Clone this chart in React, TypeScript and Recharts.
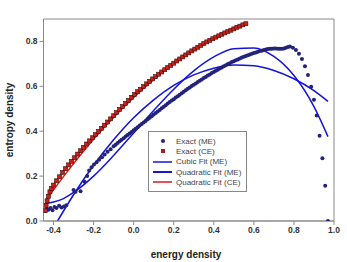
import React from "react";
import {
  ComposedChart,
  Line,
  Scatter,
  XAxis,
  YAxis,
  ReferenceArea,
  Label,
} from "recharts";

// Exact (ME): microcanonical entropy density vs energy density
const meX = [
  -0.441, -0.433, -0.425, -0.415, -0.405, -0.395, -0.385, -0.372, -0.36, -0.348, -0.336,
  -0.3, -0.29, -0.265, -0.245, -0.232, -0.222, -0.21, -0.198, -0.185, -0.172, -0.158,
  -0.145, -0.13, -0.115,
  -0.1, -0.09, -0.08, -0.07, -0.06, -0.05, -0.04, -0.03, -0.02, -0.01,
  0.0, 0.01, 0.02, 0.03, 0.04, 0.05, 0.06, 0.07, 0.08, 0.09,
  0.1, 0.11, 0.12, 0.13, 0.14, 0.15, 0.16, 0.17, 0.18, 0.19,
  0.2, 0.21, 0.22, 0.23, 0.24, 0.25, 0.26, 0.27, 0.28, 0.29,
  0.3, 0.31, 0.32, 0.33, 0.34, 0.35, 0.36, 0.37, 0.38, 0.39,
  0.4, 0.41, 0.42, 0.43, 0.44, 0.45, 0.46, 0.47, 0.48, 0.49,
  0.5, 0.51, 0.52, 0.53, 0.54, 0.55, 0.56, 0.57, 0.58, 0.59,
  0.6, 0.61, 0.62, 0.63, 0.64, 0.65, 0.66, 0.67, 0.68, 0.69,
  0.7, 0.71, 0.72, 0.73, 0.74, 0.75, 0.76, 0.77, 0.78,
  0.795, 0.81, 0.825, 0.84, 0.855, 0.87, 0.886, 0.9, 0.914, 0.928, 0.942, 0.956, 0.97,
];
const meY = [
  0.045, 0.055, 0.05, 0.058, 0.048, 0.062, 0.058, 0.068, 0.06, 0.065, 0.07,
  0.138, 0.13, 0.132, 0.175, 0.2, 0.225, 0.24, 0.252, 0.262, 0.273, 0.284,
  0.296, 0.308, 0.32,
  0.333, 0.34, 0.348, 0.355, 0.362, 0.369, 0.376, 0.383, 0.39, 0.397,
  0.404, 0.411, 0.418, 0.425, 0.432, 0.439, 0.446, 0.453, 0.46, 0.467,
  0.474, 0.481, 0.488, 0.495, 0.502, 0.509, 0.516, 0.523, 0.53, 0.537,
  0.543, 0.55, 0.556, 0.563, 0.569, 0.576, 0.582, 0.589, 0.595, 0.601,
  0.607, 0.613, 0.619, 0.625, 0.631, 0.637, 0.642, 0.648, 0.653, 0.659,
  0.664, 0.669, 0.674, 0.679, 0.684, 0.689, 0.694, 0.699, 0.703, 0.708,
  0.712, 0.716, 0.72, 0.724, 0.728, 0.732, 0.735, 0.739, 0.742, 0.745,
  0.748, 0.751, 0.754, 0.757, 0.759, 0.762, 0.764, 0.766, 0.767, 0.768,
  0.769, 0.769, 0.768, 0.767, 0.767, 0.769, 0.772, 0.775, 0.777,
  0.772, 0.762, 0.745, 0.722, 0.69, 0.65, 0.598, 0.54, 0.47, 0.38, 0.28, 0.157, 0.0,
];

// Exact (CE): canonical entropy density
const ceX = [
  -0.441, -0.437, -0.432, -0.425, -0.418, -0.41,
  -0.4, -0.385, -0.37, -0.355, -0.34, -0.325, -0.31, -0.295, -0.28, -0.265,
  -0.25, -0.235, -0.22, -0.205, -0.19, -0.175, -0.16, -0.145, -0.13, -0.115,
  -0.1, -0.085, -0.07, -0.055, -0.04, -0.025, -0.01, 0.005, 0.02, 0.035,
  0.05, 0.065, 0.08, 0.095, 0.11, 0.125, 0.14, 0.155, 0.17, 0.185,
  0.2, 0.215, 0.23, 0.245, 0.26, 0.275, 0.29, 0.305, 0.32, 0.335,
  0.35, 0.365, 0.38, 0.395, 0.41, 0.425, 0.44, 0.455, 0.47, 0.485,
  0.5, 0.515, 0.53, 0.545, 0.56,
];
const ceY = [
  0.047, 0.07, 0.09, 0.11, 0.13, 0.145,
  0.16, 0.179, 0.197, 0.216, 0.233, 0.25, 0.266, 0.282, 0.298, 0.313,
  0.328, 0.343, 0.357, 0.371, 0.385, 0.399, 0.413, 0.427, 0.441, 0.455,
  0.469, 0.483, 0.497, 0.51, 0.524, 0.537, 0.551, 0.564, 0.576, 0.587,
  0.599, 0.611, 0.622, 0.633, 0.643, 0.654, 0.664, 0.674, 0.684, 0.693,
  0.703, 0.713, 0.722, 0.731, 0.74, 0.749, 0.758, 0.766, 0.774, 0.782,
  0.79, 0.798, 0.805, 0.812, 0.819, 0.825, 0.832, 0.838, 0.844, 0.85,
  0.856, 0.863, 0.868, 0.874, 0.879,
];

// fitted curves
const cubicMeX = [-0.44, -0.4, -0.35, -0.3, -0.2, -0.1, 0.0, 0.1, 0.2, 0.3, 0.4, 0.5, 0.6, 0.7, 0.8, 0.9, 0.97];
const cubicMeY = [0.078, 0.085, 0.1, 0.127, 0.2, 0.292, 0.392, 0.492, 0.587, 0.669, 0.731, 0.768, 0.771, 0.733, 0.648, 0.51, 0.376];

const quadMeX = [-0.38, -0.3, -0.2, -0.1, 0.0, 0.1, 0.2, 0.3, 0.4, 0.5, 0.6, 0.7, 0.8, 0.9, 0.97];
const quadMeY = [0.0, 0.117, 0.248, 0.362, 0.46, 0.54, 0.604, 0.651, 0.681, 0.695, 0.692, 0.671, 0.634, 0.581, 0.533];

const quadCeX = [-0.44, -0.34, -0.24, -0.14, -0.04, 0.06, 0.16, 0.26, 0.36, 0.46, 0.56];
const quadCeY = [0.09, 0.21, 0.322, 0.424, 0.516, 0.6, 0.674, 0.74, 0.796, 0.842, 0.88];

const xTicks = [-0.4, -0.2, 0.0, 0.2, 0.4, 0.6, 0.8, 1.0];
const yTicks = [0.0, 0.2, 0.4, 0.6, 0.8];

const legendItems = [
  { label: "Exact (ME)", kind: "dot" },
  { label: "Exact (CE)", kind: "square" },
  { label: "Cubic Fit (ME)", kind: "line" },
  { label: "Quadratic Fit (ME)", kind: "line2" },
  { label: "Quadratic Fit (CE)", kind: "redline" },
];

const zip = (xs: number[], ys: number[]) => xs.map((x, i) => ({ x, y: ys[i] }));

const meData = zip(meX, meY);
const ceData = zip(ceX, ceY);
const cubicMe = zip(cubicMeX, cubicMeY);
const quadMe = zip(quadMeX, quadMeY);
const quadCe = zip(quadCeX, quadCeY);

const NAVY = "#23237a";
const BLUE = "#1414dc";
const RED = "#dd1a14";
const FRAME = "#8a8a8a";
const FONT = "'Liberation Sans', Arial, sans-serif";

const Dot = (p: any) => <circle cx={p.cx} cy={p.cy} r={2} fill={NAVY} />;
const Square = (p: any) => (
  <rect x={p.cx - 2} y={p.cy - 2} width={4} height={4} fill="#c82018" stroke="#3a0c0c" strokeWidth={0.6} />
);

function LegendBox() {
  return (
    <div
      style={{
        position: "absolute",
        left: 148,
        top: 131,
        width: 99,
        height: 61,
        border: "1px solid #888",
        background: "#fff",
        boxSizing: "border-box",
        paddingTop: 4,
        fontFamily: FONT,
        fontSize: 8,
        color: "#444",
      }}
    >
      {legendItems.map((it) => (
        <div key={it.label} style={{ display: "flex", alignItems: "center", height: 10.3 }}>
          <svg width={22} height={10} style={{ marginLeft: 4, flex: "none" }}>
            {it.kind === "dot" && <circle cx={10} cy={5} r={2} fill={NAVY} />}
            {it.kind === "square" && <rect x={8} y={3} width={4} height={4} fill="#a52020" />}
            {it.kind === "line" && <line x1={0} x2={19} y1={5} y2={5} stroke={BLUE} strokeWidth={1.5} />}
            {it.kind === "line2" && <line x1={0} x2={19} y1={5} y2={5} stroke={BLUE} strokeWidth={2} />}
            {it.kind === "redline" && <line x1={0} x2={19} y1={5} y2={5} stroke={RED} strokeWidth={1.5} />}
          </svg>
          <span style={{ marginLeft: 1, whiteSpace: "nowrap" }}>{it.label}</span>
        </div>
      ))}
    </div>
  );
}

const YTitle = (p: any) => {
  const vb = p.viewBox || {};
  const cy = vb.y + vb.height / 2;
  return (
    <text
      x={9}
      y={cy}
      transform={`rotate(-90 9 ${cy})`}
      textAnchor="middle"
      dominantBaseline="central"
      style={{ fill: "#222", fontSize: 10, fontWeight: 700, fontFamily: FONT }}
    >
      entropy density
    </text>
  );
};

const XTitle = () => (
  <text
    x={186}
    y={254}
    textAnchor="middle"
    dominantBaseline="central"
    style={{ fill: "#222", fontSize: 10, fontWeight: 700, fontFamily: FONT }}
  >
    energy density
  </text>
);

export default function App() {
  const tickStyle = { fill: "#333", fontSize: 8.5, fontWeight: 700, fontFamily: FONT };
  return (
    <div style={{ position: "absolute", left: 0, top: 0, width: 347, height: 262, background: "#fff" }}>
      <ComposedChart width={347} height={262} margin={{ top: 19, right: 13, bottom: 0, left: 0 }}>
        <XAxis
          type="number"
          dataKey="x"
          domain={[-0.45, 1.0]}
          ticks={xTicks}
          allowDataOverflow
          tickFormatter={(v: number) => v.toFixed(1)}
          tick={tickStyle}
          tickSize={4}
          stroke={FRAME}
          height={41}
        >
          <Label content={XTitle} />
        </XAxis>
        <YAxis
          type="number"
          dataKey="y"
          domain={[0, 0.9]}
          ticks={yTicks}
          allowDataOverflow
          tickFormatter={(v: number) => v.toFixed(1)}
          tick={tickStyle}
          tickSize={4}
          stroke={FRAME}
          width={43.5}
        >
          <Label content={YTitle} />
        </YAxis>
        <ReferenceArea x1={-0.45} x2={1.0} y1={0} y2={0.9} fill="none" stroke={FRAME} strokeWidth={1} />
        <Scatter data={meData} shape={Dot} isAnimationActive={false} />
        <Scatter data={ceData} shape={Square} isAnimationActive={false} />
        <Line data={cubicMe} dataKey="y" type="monotone" stroke={BLUE} strokeWidth={1.5} dot={false} isAnimationActive={false} />
        <Line data={quadMe} dataKey="y" type="monotone" stroke={BLUE} strokeWidth={1.6} dot={false} isAnimationActive={false} />
        <Line data={quadCe} dataKey="y" type="monotone" stroke={RED} strokeWidth={1.5} dot={false} isAnimationActive={false} />
      </ComposedChart>
      <LegendBox />
    </div>
  );
}
